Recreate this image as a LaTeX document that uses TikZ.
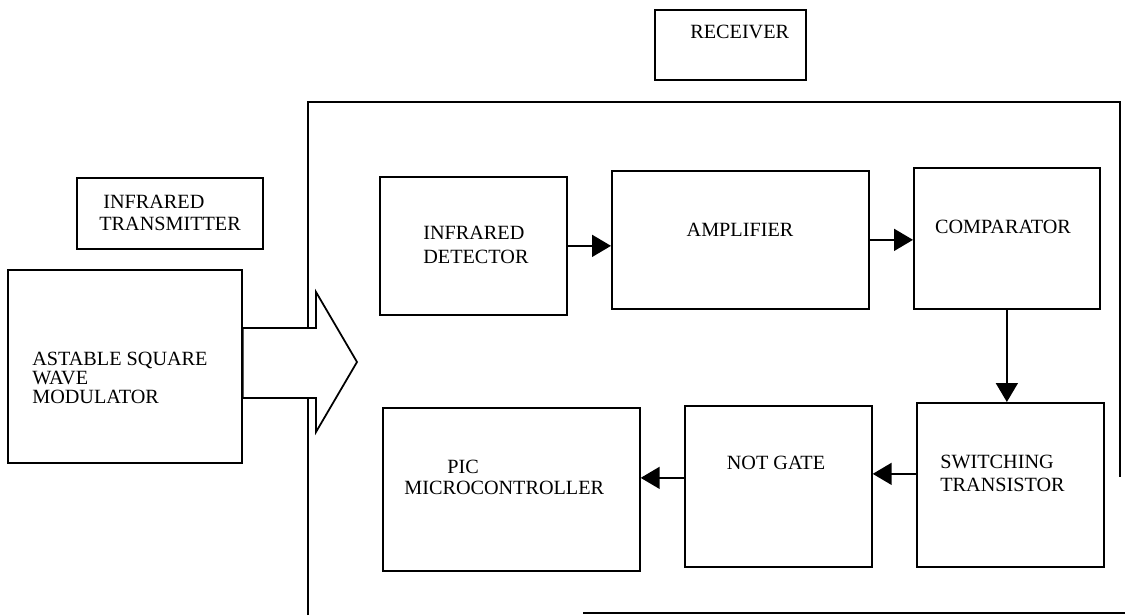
\documentclass[tikz,border=0pt]{standalone}
\usepackage{fontspec}
\setmainfont{Liberation Serif}
\usetikzlibrary{arrows.meta}

\begin{document}
\begin{tikzpicture}[x=0.02cm, y=-0.02cm,
        blk/.style={draw, line width=1pt, rectangle, inner sep=0pt, anchor=north west},
        lbl/.style={inner sep=0pt, font=\fontsize{11.5}{13.6}\selectfont},
        arr/.style={line width=1pt, -{Triangle[length=0.38cm, width=0.44cm]}}]
        \useasboundingbox (0,0) rectangle (1125,615);

        % receiver frame
        \draw[line width=1pt] (308,615) -- (308,102) -- (1120,102) -- (1120,477);
        \draw[line width=1pt] (583,613) -- (1125,613);

        % boxes
        \node[blk, minimum width=3.02cm, minimum height=1.40cm] (R0) at (654,9) {};
        \node[blk, minimum width=3.72cm, minimum height=1.42cm] (T0) at (76,177) {};
        \node[blk, minimum width=4.68cm, minimum height=3.86cm] (T1) at (7,269) {};
        \node[blk, minimum width=3.74cm, minimum height=2.76cm] (R1) at (379,176) {};
        \node[blk, minimum width=5.14cm, minimum height=2.76cm] (R2) at (611,170) {};
        \node[blk, minimum width=3.72cm, minimum height=2.82cm] (R3) at (913,167) {};
        \node[blk, minimum width=3.74cm, minimum height=3.28cm] (R4) at (916,402) {};
        \node[blk, minimum width=3.74cm, minimum height=3.22cm] (R5) at (684,405) {};
        \node[blk, minimum width=5.14cm, minimum height=3.26cm] (R6) at (382,407) {};

        % big transmit arrow
        \draw[line width=1pt, fill=white] (T1.east |- 0,328) -- (316,328) -- (316,292) -- (357,362)
                -- (316,432) -- (316,398) -- (T1.east |- 0,398) -- cycle;

        % texts
        \node[lbl, anchor=west] (R0t) at (690,32) {RECEIVER};
        \node[lbl, anchor=west, align=left, font=\fontsize{11.5}{13}\selectfont] (T0t) at (99,213)
                {\hspace*{0.08cm}INFRARED\\TRANSMITTER};
        \node[lbl, anchor=west, align=left, font=\fontsize{11.5}{10.8}\selectfont] (T1t) at (32,378)
                {ASTABLE SQUARE\\WAVE\\MODULATOR};
        \node[lbl, anchor=west, align=left] (R1t) at (423,245) {INFRARED\\DETECTOR};
        \node[lbl] (R2t) at (740,230) {AMPLIFIER};
        \node[lbl] (R3t) at (1003,227) {COMPARATOR};
        \node[lbl, anchor=west, align=left, font=\fontsize{11.5}{13}\selectfont] (R4t) at (940,473)
                {SWITCHING\\TRANSISTOR};
        \node[lbl] (R5t) at (776,463) {NOT GATE};
        \node[lbl, anchor=west, align=left, font=\fontsize{11.5}{12}\selectfont] (R6t) at (404,477)
                {\hspace*{0.86cm}PIC\\MICROCONTROLLER};

        % signal path
        \draw[arr] (R1.east) -- (R1.east -| R2.west);
        \draw[arr] (R2.east) -- (R2.east -| R3.west);
        \draw[arr] (R3.south) -- (R3.south |- R4.north);
        \coordinate (S1) at ([yshift=0.22cm]R4.west);
        \draw[arr] (S1) -- (S1 -| R5.east);
        \coordinate (S2) at ([yshift=0.17cm]R5.west);
        \draw[arr] (S2) -- (S2 -| R6.east);
\end{tikzpicture}
\end{document}
